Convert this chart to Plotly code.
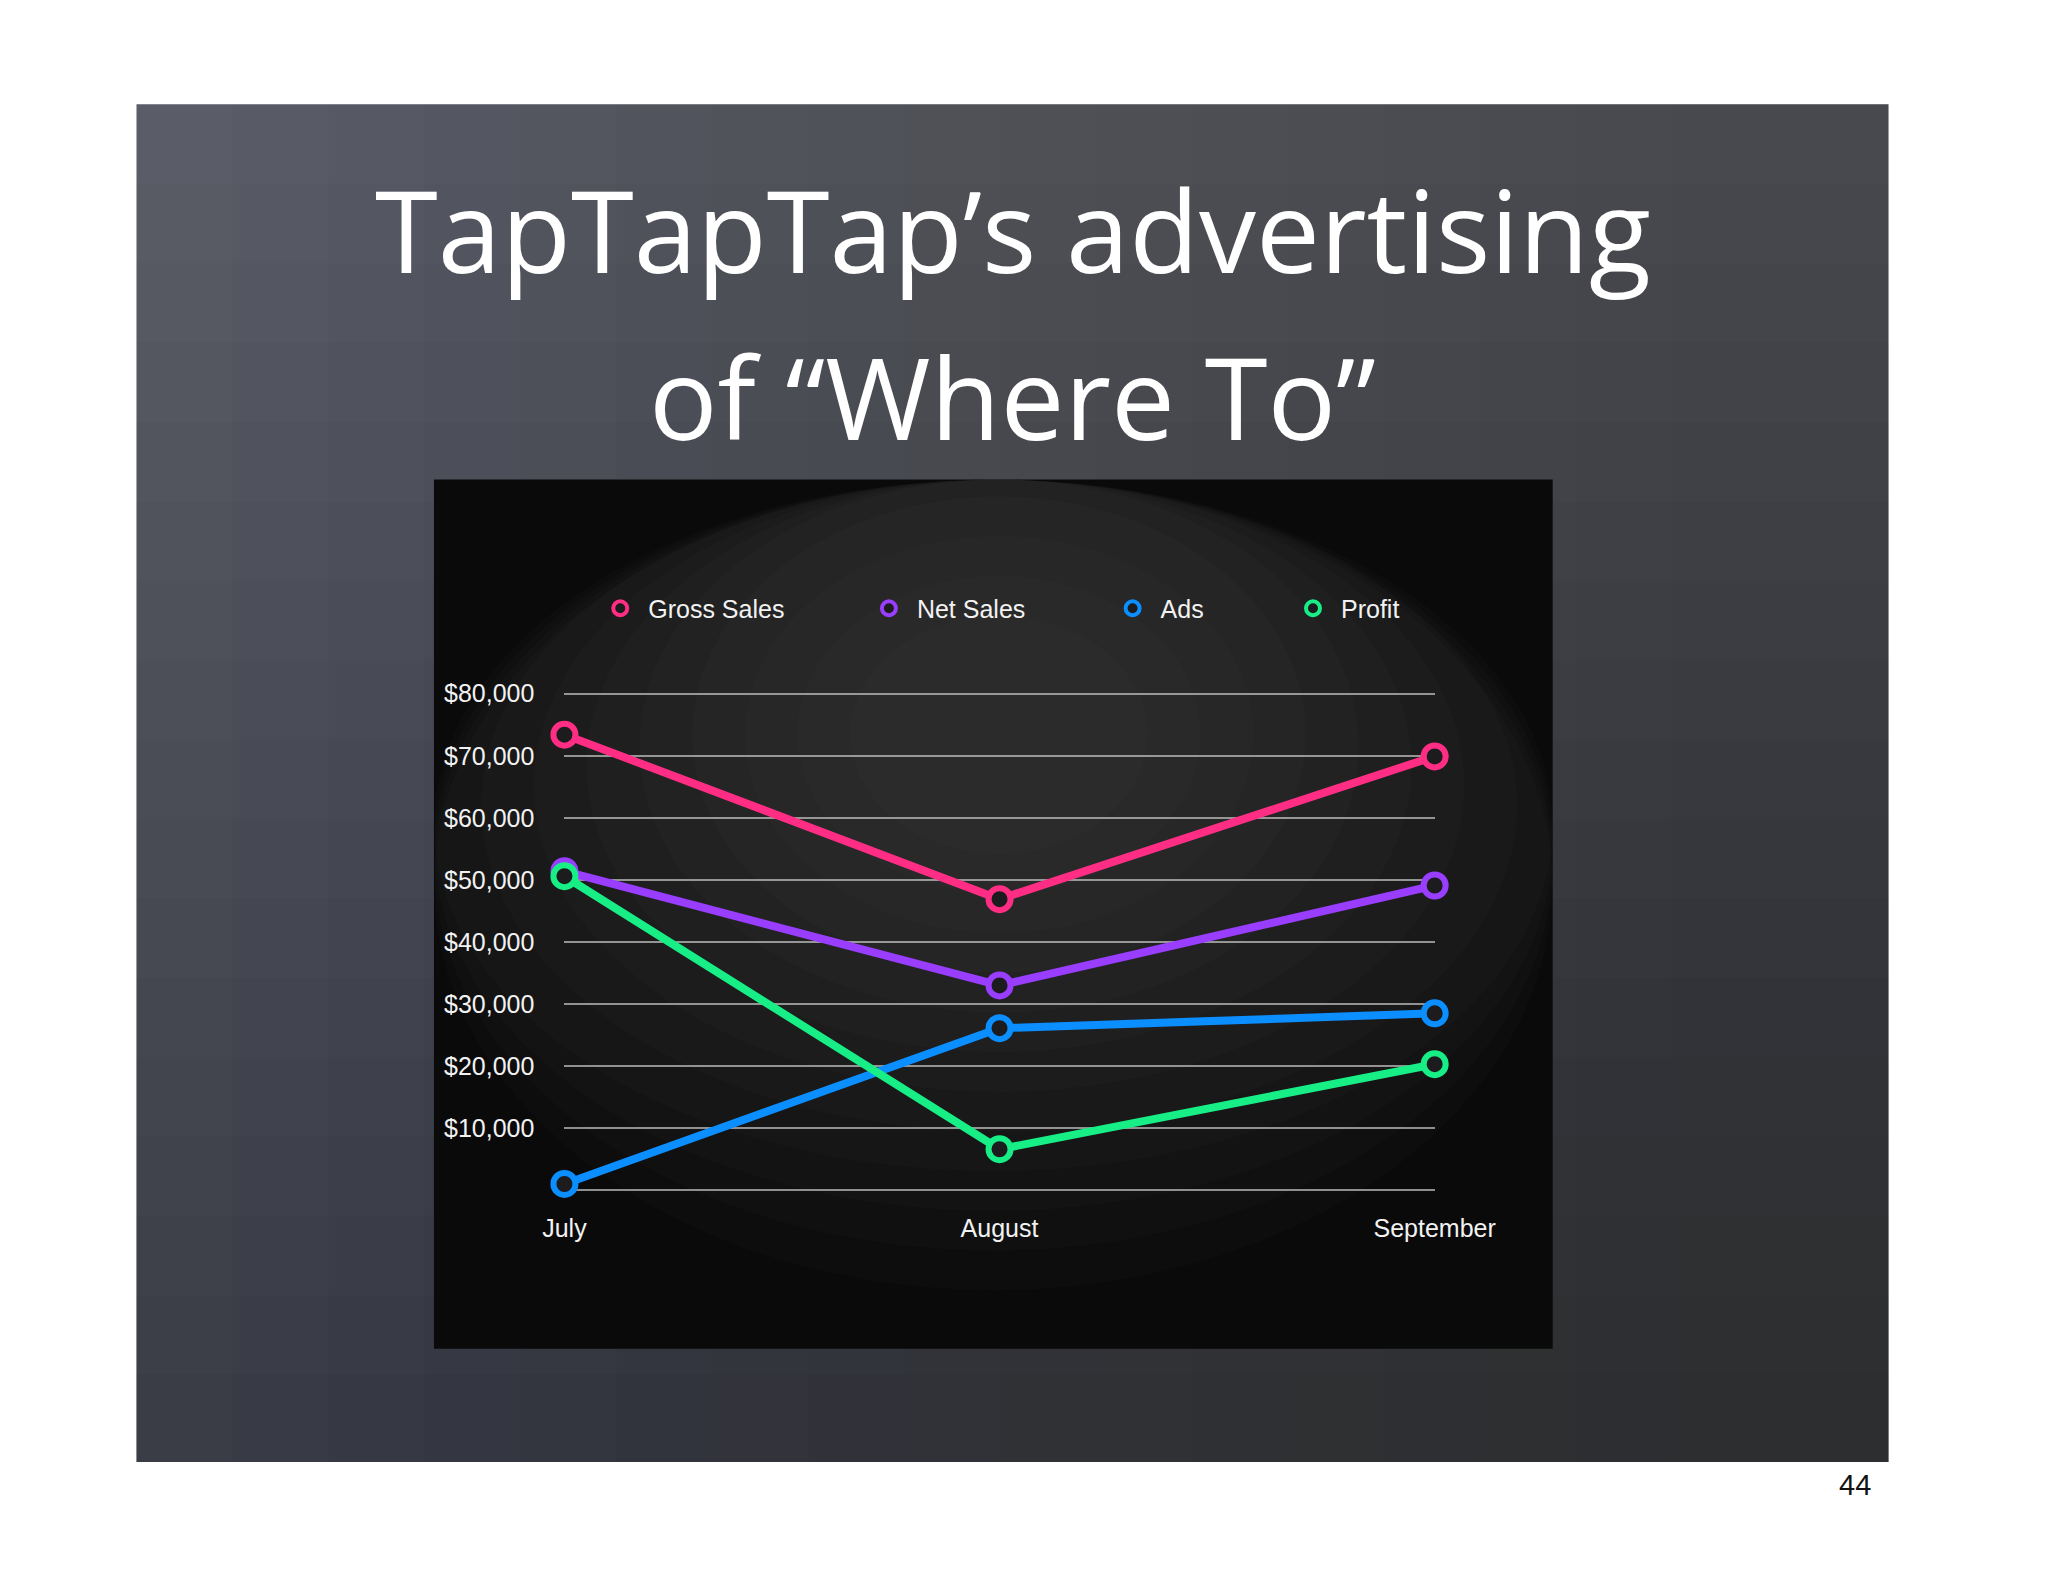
import plotly.graph_objects as go

# DATA #
months = ["July", "August", "September"]
gross_sales = [73400, 46900, 69900]
net_sales = [51400, 33000, 49100]
ads = [1000, 26100, 28500]
profit = [50600, 6600, 20300]

y_ticks = [0, 10000, 20000, 30000, 40000, 50000, 60000, 70000, 80000]
y_labels = ["", "$10,000", "$20,000", "$30,000", "$40,000", "$50,000", "$60,000", "$70,000", "$80,000"]

series = [
    ("Gross Sales", gross_sales, "#ff2e84"),
    ("Net Sales", net_sales, "#993dff"),
    ("Ads", ads, "#0b8eff"),
    ("Profit", profit, "#17ef86"),
]

W, H = 2048, 1582

def px(x):
    return x / W

def py(y):
    return 1 - y / H

fig = go.Figure()

# lines
for name, vals, col in series:
    fig.add_trace(go.Scatter(
        x=months, y=vals, name=name, mode="lines+markers",
        line=dict(color=col, width=8),
        marker=dict(symbol="circle", size=22, color="#1c1c1e", line=dict(color=col, width=6)),
        cliponaxis=False, showlegend=False, hoverinfo="x+y+name",
    ))

# legend entries (marker only, one legend each so spacing matches)
legend_x = [614, 894, 1148, 1336]
for i, (name, vals, col) in enumerate(series):
    key = "legend" if i == 0 else "legend%d" % (i + 1)
    fig.add_trace(go.Scatter(
        x=[None], y=[None], name=name, mode="markers", legend=key,
        marker=dict(symbol="circle", size=14, color="#1c1c1e", line=dict(color=col, width=4)),
    ))
    fig.update_layout({key: dict(
        x=px(legend_x[i] - 28), y=py(593), xanchor="left", yanchor="middle",
        orientation="h", bgcolor="rgba(0,0,0,0)", borderwidth=0,
        font=dict(family="Liberation Sans, Arial", size=25, color="#f2f2f2"),
        itemwidth=46,
    )})

# BACKGROUND SHAPES #
shapes = []
# slide (chalkboard)
shapes.append(dict(type="rect", xref="paper", yref="paper", layer="below",
                   x0=px(111), x1=px(1937), y0=py(85), y1=py(1453),
                   fillcolor="#5a5d67", line=dict(width=0)))
# darken toward bottom right
for i in range(16):
    shapes.append(dict(type="rect", xref="paper", yref="paper", layer="below",
                       x0=px(111 + 100 * (i + 1)), x1=px(1937), y0=py(85), y1=py(1453),
                       fillcolor="rgba(0,0,0,0.013)", line=dict(width=0)))
for i in range(16):
    shapes.append(dict(type="rect", xref="paper", yref="paper", layer="below",
                       x0=px(111), x1=px(1937), y0=py(85 + 80 * (i + 1)), y1=py(1453),
                       fillcolor="rgba(0,0,0,0.018)", line=dict(width=0)))
# chart panel
shapes.append(dict(type="rect", xref="paper", yref="paper", layer="below",
                   x0=px(421), x1=px(1587), y0=py(463), y1=py(1339),
                   fillcolor="#0a0a0a", line=dict(width=0)))
# soft light in the panel
for i in range(12):
    rx = 760 - i * 55
    ry = 560 - i * 40
    cx, cy = 1010, 720
    shapes.append(dict(type="circle", xref="paper", yref="paper", layer="below",
                       x0=px(max(cx - rx, 421)), x1=px(min(cx + rx, 1587)),
                       y0=py(max(cy - ry, 463)), y1=py(min(cy + ry, 1339)),
                       fillcolor="rgba(128,128,128,0.028)", line=dict(width=0)))

# TEXT #
annotations = [
    dict(text="TapTapTap’s advertising", xref="paper", yref="paper",
         x=px(1024), y=py(290), xanchor="center", yanchor="bottom", showarrow=False,
         font=dict(family="Open Sans", size=114, color="#ffffff")),
    dict(text="of “Where To”", xref="paper", yref="paper",
         x=px(1024), y=py(458), xanchor="center", yanchor="bottom", showarrow=False,
         font=dict(family="Open Sans", size=114, color="#ffffff")),
    dict(text="44", xref="paper", yref="paper",
         x=px(1921), y=py(1476), xanchor="right", yanchor="middle", showarrow=False,
         font=dict(family="Liberation Sans, Arial", size=29, color="#111111")),
]

fig.update_layout(
    width=W, height=H,
    margin=dict(l=0, r=0, t=0, b=0),
    paper_bgcolor="#ffffff",
    plot_bgcolor="rgba(0,0,0,0)",
    shapes=shapes,
    annotations=annotations,
    xaxis=dict(
        domain=[px(557), px(1464)], range=[0, 2], type="category",
        showgrid=False, zeroline=False, showline=False,
        ticks="outside", ticklen=14, tickcolor="rgba(0,0,0,0)",
        tickfont=dict(family="Liberation Sans, Arial", size=25, color="#f2f2f2"),
    ),
    yaxis=dict(
        domain=[py(1181), py(677)], range=[-300, 80300],
        tickvals=y_ticks, ticktext=y_labels,
        showgrid=True, gridcolor="rgba(200,200,200,0.7)", gridwidth=1.5,
        zeroline=False, showline=False,
        ticks="outside", ticklen=24, tickcolor="rgba(0,0,0,0)",
        tickfont=dict(family="Liberation Sans, Arial", size=25, color="#f2f2f2"),
    ),
)

fig.write_html("out.html")
